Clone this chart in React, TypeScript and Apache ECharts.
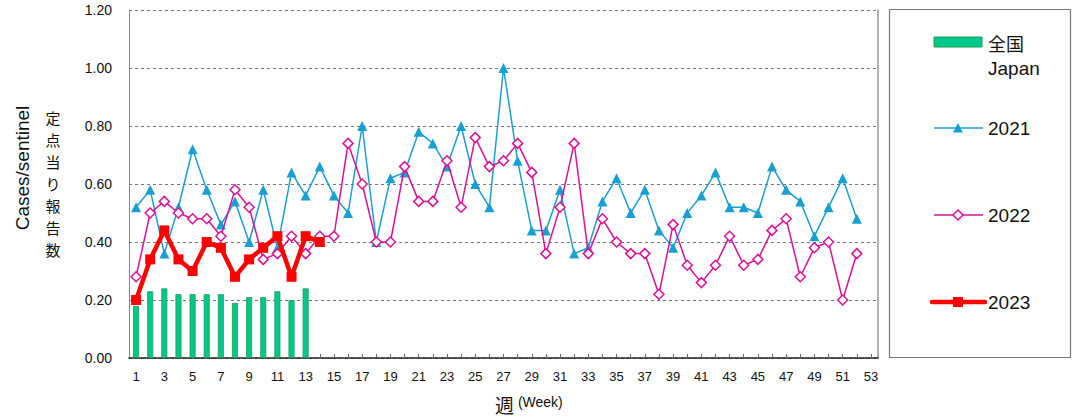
import React, { useEffect, useRef } from "react";
import * as echarts from "echarts";

const weeks = [
  "1", "2", "3", "4", "5", "6", "7", "8", "9", "10",
  "11", "12", "13", "14", "15", "16", "17", "18", "19", "20",
  "21", "22", "23", "24", "25", "26", "27", "28", "29", "30",
  "31", "32", "33", "34", "35", "36", "37", "38", "39", "40",
  "41", "42", "43", "44", "45", "46", "47", "48", "49", "50",
  "51", "52", "53",
];

const japan2023 = [0.18, 0.23, 0.24, 0.22, 0.22, 0.22, 0.22, 0.19, 0.21, 0.21, 0.23, 0.2, 0.24];

const y2021 = [
  0.52, 0.58, 0.36, 0.52, 0.72, 0.58, 0.46, 0.54, 0.4, 0.58,
  0.38, 0.64, 0.56, 0.66, 0.56, 0.5, 0.8, 0.4, 0.62, 0.64,
  0.78, 0.74, 0.66, 0.8, 0.6, 0.52, 1.0, 0.68, 0.44, 0.44,
  0.58, 0.36, 0.38, 0.54, 0.62, 0.5, 0.58, 0.44, 0.38, 0.5,
  0.56, 0.64, 0.52, 0.52, 0.5, 0.66, 0.58, 0.54, 0.42, 0.52,
  0.62, 0.48,
];

const y2022 = [
  0.28, 0.5, 0.54, 0.5, 0.48, 0.48, 0.42, 0.58, 0.52, 0.34,
  0.36, 0.42, 0.36, 0.42, 0.42, 0.74, 0.6, 0.4, 0.4, 0.66,
  0.54, 0.54, 0.68, 0.52, 0.76, 0.66, 0.68, 0.74, 0.64, 0.36,
  0.52, 0.74, 0.36, 0.48, 0.4, 0.36, 0.36, 0.22, 0.46, 0.32,
  0.26, 0.32, 0.42, 0.32, 0.34, 0.44, 0.48, 0.28, 0.38, 0.4,
  0.2, 0.36,
];

const y2023 = [0.2, 0.34, 0.44, 0.34, 0.3, 0.4, 0.38, 0.28, 0.34, 0.38, 0.42, 0.28, 0.42, 0.4];

const yTicks = { min: 0, max: 1.2, interval: 0.2 };

const yTitleChars = ["定", "点", "当", "り", "報", "告", "数"];

const BLUE = "#1a9fd2";
const PINK = "#dd1199";
const RED = "#ff0000";
const GREEN = "#00c88c";
const GREEN_EDGE = "#1f9f4f";
const LATIN = "'Liberation Sans', Arial, sans-serif";
const CJK = "'Noto Sans CJK JP', sans-serif";

export default function App() {
  const ref = useRef<HTMLDivElement>(null);

  useEffect(() => {
    document.body.style.margin = "0";
    if (!ref.current) return;
    const chart = echarts.init(ref.current, undefined, { renderer: "svg" });
    const lx = 934;
    const tx = 988;
    const charGraphics = yTitleChars.map((c, i) => ({
      type: "text",
      x: 53,
      y: 117 + i * 22,
      style: {
        text: c,
        fontSize: 15,
        fontFamily: CJK,
        fill: "#111",
        align: "center",
        verticalAlign: "middle",
      },
    }));
    chart.setOption({
      animation: false,
      backgroundColor: "#ffffff",
      grid: { left: 129, right: 196, top: 10, bottom: 59, containLabel: false },
      xAxis: {
        type: "category",
        data: weeks,
        boundaryGap: true,
        axisLine: { show: true, lineStyle: { color: "#222", width: 1.5 } },
        axisTick: {
          show: true,
          inside: true,
          alignWithLabel: true,
          interval: 0,
          length: 4,
          lineStyle: { color: "#666" },
        },
        axisLabel: {
          interval: 1,
          fontSize: 13,
          fontFamily: LATIN,
          color: "#111",
          margin: 12,
        },
        splitLine: { show: false },
      },
      yAxis: [
        {
          type: "value",
          min: yTicks.min,
          max: yTicks.max,
          interval: yTicks.interval,
          axisLine: { show: true, lineStyle: { color: "#888", width: 1 } },
          axisTick: { show: false },
          axisLabel: {
            formatter: (v: number) => v.toFixed(2),
            fontSize: 14,
            fontFamily: LATIN,
            color: "#111",
            margin: 17,
          },
          splitLine: {
            show: true,
            lineStyle: { color: "#777", type: [3, 3], width: 1 },
          },
        },
        {
          type: "value",
          position: "right",
          min: yTicks.min,
          max: yTicks.max,
          interval: yTicks.interval,
          axisLine: { show: true, lineStyle: { color: "#999", width: 1.5 } },
          axisTick: { show: false },
          axisLabel: { show: false },
          splitLine: { show: false },
        },
      ],
      series: [
        {
          name: "全国 Japan",
          type: "bar",
          data: japan2023,
          barWidth: 6,
          itemStyle: { color: GREEN, borderColor: GREEN_EDGE, borderWidth: 0.8 },
          z: 1,
        },
        {
          name: "2021",
          type: "line",
          data: y2021,
          symbol: "triangle",
          symbolSize: 10,
          showAllSymbol: true,
          lineStyle: { color: BLUE, width: 1.5 },
          itemStyle: { color: BLUE },
          z: 2,
        },
        {
          name: "2022",
          type: "line",
          data: y2022,
          symbol: "diamond",
          symbolSize: 10,
          showAllSymbol: true,
          lineStyle: { color: PINK, width: 1.5 },
          itemStyle: { color: "#ffffff", borderColor: PINK, borderWidth: 1.5 },
          z: 3,
        },
        {
          name: "2023",
          type: "line",
          data: y2023,
          symbol: "rect",
          symbolSize: 10,
          showAllSymbol: true,
          lineStyle: { color: RED, width: 4.5 },
          itemStyle: { color: RED },
          z: 4,
        },
      ],
      graphic: [
        {
          type: "rect",
          shape: { x: 889.5, y: 9.5, width: 181, height: 348 },
          style: { fill: "none", stroke: "#777", lineWidth: 1.2 },
        },
        {
          type: "rect",
          shape: { x: lx, y: 37, width: 48, height: 10 },
          style: { fill: GREEN, stroke: GREEN_EDGE, lineWidth: 1 },
        },
        {
          type: "text",
          x: tx,
          y: 43,
          style: { text: "全国", font: `18px ${CJK}`, fill: "#111", verticalAlign: "middle" },
        },
        {
          type: "text",
          x: tx,
          y: 68,
          style: { text: "Japan", font: `19px ${LATIN}`, fill: "#111", verticalAlign: "middle" },
        },
        {
          type: "line",
          shape: { x1: lx, y1: 128, x2: lx + 49, y2: 128 },
          style: { stroke: BLUE, lineWidth: 1.5 },
        },
        {
          type: "polygon",
          shape: { points: [[lx + 19, 132.5], [lx + 29, 132.5], [lx + 24, 123]] },
          style: { fill: BLUE },
        },
        {
          type: "text",
          x: tx,
          y: 128,
          style: { text: "2021", font: `19px ${LATIN}`, fill: "#111", verticalAlign: "middle" },
        },
        {
          type: "line",
          shape: { x1: lx, y1: 215, x2: lx + 49, y2: 215 },
          style: { stroke: "#e050b0", lineWidth: 2 },
        },
        {
          type: "polygon",
          shape: { points: [[lx + 24, 210], [lx + 29, 215], [lx + 24, 220], [lx + 19, 215]] },
          style: { fill: "#ffffff", stroke: PINK, lineWidth: 1.5 },
        },
        {
          type: "text",
          x: tx,
          y: 215,
          style: { text: "2022", font: `19px ${LATIN}`, fill: "#111", verticalAlign: "middle" },
        },
        {
          type: "line",
          shape: { x1: lx - 2, y1: 302, x2: lx + 51, y2: 302 },
          style: { stroke: RED, lineWidth: 4.5, lineCap: "round" },
        },
        {
          type: "rect",
          shape: { x: lx + 19, y: 297, width: 10, height: 10 },
          style: { fill: RED },
        },
        {
          type: "text",
          x: tx,
          y: 302,
          style: { text: "2023", font: `19px ${LATIN}`, fill: "#111", verticalAlign: "middle" },
        },
        {
          type: "text",
          x: 22,
          y: 168,
          rotation: Math.PI / 2,
          style: {
            text: "Cases/sentinel",
            font: `19px ${LATIN}`,
            fill: "#111",
            align: "center",
            verticalAlign: "middle",
          },
        },
        ...charGraphics,
        {
          type: "text",
          x: 495,
          y: 404,
          style: {
            text: "{a|週}{b| (Week)}",
            verticalAlign: "middle",
            rich: {
              a: { fontSize: 19, fontFamily: CJK, fill: "#111" },
              b: { fontSize: 14, fontFamily: LATIN, fill: "#111", padding: [0, 0, 5, 0] },
            },
          },
        },
      ],
    });
    return () => chart.dispose();
  }, []);

  return <div ref={ref} style={{ width: 1074, height: 417 }} />;
}
